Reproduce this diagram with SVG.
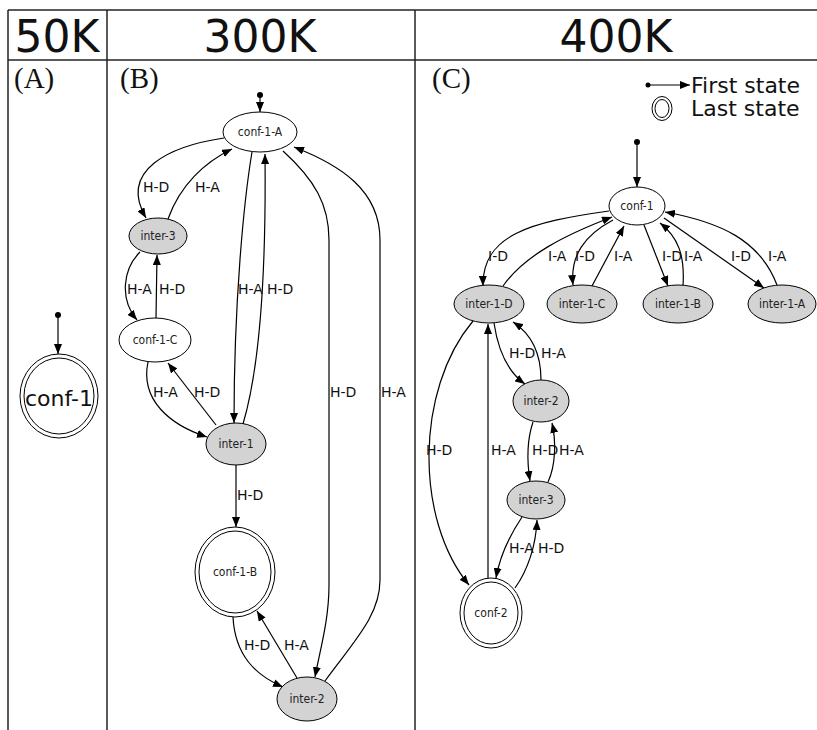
<svg xmlns="http://www.w3.org/2000/svg" width="817" height="730" viewBox="0 0 817 730">
<defs>
<marker id="ah" viewBox="0 0 10 8" refX="10" refY="4" markerWidth="10" markerHeight="8" orient="auto" markerUnits="userSpaceOnUse"><path d="M0,0 L10,4 L0,8 z" fill="#000"/></marker>
<style>
.tbl{stroke:#222;stroke-width:1.5;fill:none}
.hdr{font-family:"DejaVu Sans",sans-serif;font-size:44px;text-anchor:middle;fill:#111}
.pl{font-family:"Liberation Serif",serif;font-size:29px;fill:#111}
.leg{font-family:"DejaVu Sans",sans-serif;font-size:22px;fill:#111}
.e{fill:none;stroke:#000;stroke-width:1.2;marker-end:url(#ah)}
.lb{font-family:"DejaVu Sans",sans-serif;font-size:14px;fill:#111}
.nw{fill:#fff;stroke:#000;stroke-width:1}
.ng{fill:#d3d3d3;stroke:#000;stroke-width:1}
.nt{font-family:"DejaVu Sans Condensed","DejaVu Sans",sans-serif;font-size:12px;text-anchor:middle;fill:#222}
.dot{fill:#000}
</style>
</defs>
<g id="table">
<line class="tbl" x1="8" y1="10" x2="817" y2="10"/>
<line class="tbl" x1="8" y1="60" x2="817" y2="60"/>
<line class="tbl" x1="8" y1="10" x2="8" y2="730"/>
<line class="tbl" x1="107" y1="10" x2="107" y2="730"/>
<line class="tbl" x1="415" y1="10" x2="415" y2="730"/>
<text class="hdr" x="57" y="52">50K</text>
<text class="hdr" x="260" y="52">300K</text>
<text class="hdr" x="616" y="52">400K</text>
<text class="pl" x="14" y="88">(A)</text>
<text class="pl" x="120" y="88">(B)</text>
<text class="pl" x="432" y="88">(C)</text>
</g>
<g id="legend">
<circle class="dot" cx="648" cy="85" r="2.5"/>
<line class="e" x1="648" y1="85" x2="690" y2="85"/>
<text class="leg" x="691" y="93">First state</text>
<ellipse cx="662" cy="108.5" rx="10" ry="12" fill="none" stroke="#000" stroke-width="1"/>
<ellipse cx="662" cy="108.5" rx="7" ry="9" fill="none" stroke="#000" stroke-width="1"/>
<text class="leg" x="691" y="116">Last state</text>
</g>
<g id="connectors">
<circle class="dot" cx="58" cy="315" r="3"/>
<path class="e" d="M58,315 L58,354"/>
<circle class="dot" cx="260" cy="95" r="3"/>
<path class="e" d="M260,95 L260,112"/>
<path class="e" d="M224,138 C170,146 118,170 146,218"/>
<path class="e" d="M168,219 C180,185 205,162 232,149"/>
<path class="e" d="M140,252 C122,270 120,300 137,320"/>
<path class="e" d="M156,318 L157,255"/>
<path class="e" d="M148,362 C140,400 170,425 207,437"/>
<path class="e" d="M216,425 L168,363"/>
<path class="e" d="M252,152 C244,200 234,300 234,423"/>
<path class="e" d="M243,424 C262,360 266,250 265,154"/>
<path class="e" d="M236,465 L236,527"/>
<path class="e" d="M283,151 C315,180 329,205 329,240 L329,585 C329,620 320,650 315,677"/>
<path class="e" d="M325,681 C355,640 380,615 380,580 L380,240 C380,190 340,165 294,147"/>
<path class="e" d="M233,617 C235,655 255,675 283,687"/>
<path class="e" d="M297,678 L257,611"/>
<circle class="dot" cx="637" cy="142" r="3"/>
<path class="e" d="M637,142 L637,187"/>
<path class="e" d="M609,211 C530,222 482,235 483,286"/>
<path class="e" d="M503,286 C525,255 565,235 612,217"/>
<path class="e" d="M613,220 C585,235 570,255 573,285"/>
<path class="e" d="M592,286 L624,226"/>
<path class="e" d="M644,225 L668,286"/>
<path class="e" d="M683,286 C685,255 678,237 660,223"/>
<path class="e" d="M664,218 L764,288"/>
<path class="e" d="M777,285 C760,240 720,222 665,212"/>
<path class="e" d="M473,321 C415,390 415,520 469,585"/>
<path class="e" d="M488,578 L488,324"/>
<path class="e" d="M494,323 C498,350 508,372 525,384"/>
<path class="e" d="M541,380 C541,350 530,333 513,322"/>
<path class="e" d="M533,422 C527,440 527,462 530,481"/>
<path class="e" d="M548,482 C556,465 556,440 552,423"/>
<path class="e" d="M522,517 C510,535 500,555 496,578"/>
<path class="e" d="M515,588 C528,570 536,545 537,520"/>
<g id="edge-labels">
<text class="lb" x="143" y="192">H-D</text>
<text class="lb" x="195" y="192">H-A</text>
<text class="lb" x="127" y="294">H-A</text>
<text class="lb" x="159" y="294">H-D</text>
<text class="lb" x="153" y="397">H-A</text>
<text class="lb" x="194" y="397">H-D</text>
<text class="lb" x="238" y="294">H-A</text>
<text class="lb" x="267" y="294">H-D</text>
<text class="lb" x="237" y="500">H-D</text>
<text class="lb" x="330" y="397">H-D</text>
<text class="lb" x="381" y="397">H-A</text>
<text class="lb" x="244" y="650">H-D</text>
<text class="lb" x="284" y="650">H-A</text>
<text class="lb" x="488" y="261">I-D</text>
<text class="lb" x="548" y="261">I-A</text>
<text class="lb" x="575" y="261">I-D</text>
<text class="lb" x="614" y="261">I-A</text>
<text class="lb" x="662" y="261">I-D</text>
<text class="lb" x="684" y="261">I-A</text>
<text class="lb" x="731" y="261">I-D</text>
<text class="lb" x="768" y="261">I-A</text>
<text class="lb" x="426" y="455">H-D</text>
<text class="lb" x="491" y="455">H-A</text>
<text class="lb" x="509" y="358">H-D</text>
<text class="lb" x="541" y="358">H-A</text>
<text class="lb" x="532" y="455">H-D</text>
<text class="lb" x="559" y="455">H-A</text>
<text class="lb" x="509" y="553">H-A</text>
<text class="lb" x="538" y="553">H-D</text>
</g>
</g>
<g id="A-conf-1">
<ellipse class="nw" cx="59" cy="396" rx="39" ry="42"/>
<ellipse class="nw" cx="59" cy="396" rx="35" ry="38"/>
<text x="59" y="406" style="font-family:'DejaVu Sans',sans-serif;font-size:22px;text-anchor:middle;fill:#111">conf-1</text>
</g>
<g id="B-conf-1-A"><ellipse class="nw" cx="260" cy="132" rx="37" ry="20"/><text class="nt" x="260" y="136">conf-1-A</text></g>
<g id="B-inter-3"><ellipse class="ng" cx="158" cy="236" rx="29" ry="18"/><text class="nt" x="158" y="240">inter-3</text></g>
<g id="B-conf-1-C"><ellipse class="nw" cx="155" cy="340" rx="36" ry="22"/><text class="nt" x="155" y="344">conf-1-C</text></g>
<g id="B-inter-1"><ellipse class="ng" cx="236" cy="444" rx="30" ry="21"/><text class="nt" x="236" y="448">inter-1</text></g>
<g id="B-conf-1-B"><ellipse class="nw" cx="235" cy="572" rx="40" ry="45"/><ellipse class="nw" cx="235" cy="572" rx="36" ry="41"/><text class="nt" x="235" y="576">conf-1-B</text></g>
<g id="B-inter-2"><ellipse class="ng" cx="307" cy="699" rx="30" ry="22"/><text class="nt" x="307" y="703">inter-2</text></g>
<g id="C-conf-1"><ellipse class="nw" cx="637" cy="206" rx="28" ry="19"/><text class="nt" x="637" y="210">conf-1</text></g>
<g id="C-inter-1-D"><ellipse class="ng" cx="489" cy="304" rx="35" ry="19"/><text class="nt" x="489" y="308">inter-1-D</text></g>
<g id="C-inter-1-C"><ellipse class="ng" cx="582" cy="304" rx="35" ry="19"/><text class="nt" x="582" y="308">inter-1-C</text></g>
<g id="C-inter-1-B"><ellipse class="ng" cx="678" cy="304" rx="35" ry="19"/><text class="nt" x="678" y="308">inter-1-B</text></g>
<g id="C-inter-1-A"><ellipse class="ng" cx="782" cy="304" rx="34" ry="19"/><text class="nt" x="782" y="308">inter-1-A</text></g>
<g id="C-inter-2"><ellipse class="ng" cx="541" cy="401" rx="28" ry="21"/><text class="nt" x="541" y="405">inter-2</text></g>
<g id="C-inter-3"><ellipse class="ng" cx="536" cy="500" rx="29" ry="19"/><text class="nt" x="536" y="504">inter-3</text></g>
<g id="C-conf-2"><ellipse class="nw" cx="491" cy="613" rx="31" ry="35"/><ellipse class="nw" cx="491" cy="613" rx="27" ry="31"/><text class="nt" x="491" y="617">conf-2</text></g>
</svg>
